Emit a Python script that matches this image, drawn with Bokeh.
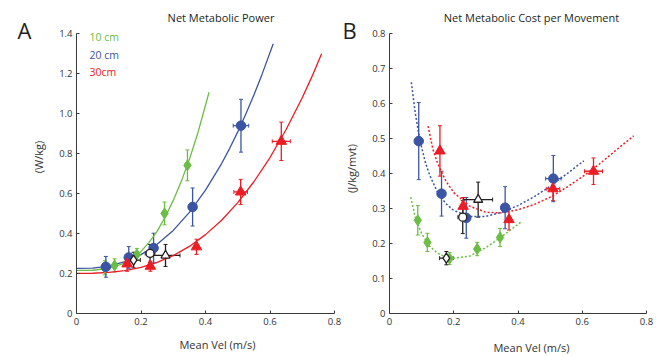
from bokeh.plotting import figure
from bokeh.layouts import row
from bokeh.models import (Range1d, FixedTicker, Whisker, TeeHead, ColumnDataSource, Label,
                          CustomJSTickFormatter)
from bokeh.embed import file_html
from bokeh.resources import INLINE

GREEN = "#6cbd45"
BLUE = "#3b54a4"
RED = "#ed1c24"
BLACK = "#231f20"
AX = "#3a3a3a"
FONT = "Open Sans"

x_ticks = [0, 0.2, 0.4, 0.6, 0.8]
yticks_A = [0, 0.2, 0.4, 0.6, 0.8, 1.0, 1.2, 1.4]
yticks_B = [0, 0.1, 0.2, 0.3, 0.4, 0.5, 0.6, 0.7, 0.8]

# ---- measured points (mean velocity, m/s) ----
vel_10 = [0.088, 0.118, 0.187, 0.273, 0.344]
vel_10_sd = [0.005, 0.006, 0.007, 0.006, 0.007]
pow_10 = [0.228, 0.240, 0.295, 0.500, 0.740]
pow_10_sd = [0.035, 0.033, 0.030, 0.057, 0.077]
cost_10 = [0.266, 0.203, 0.157, 0.184, 0.217]
cost_10_sd = [0.042, 0.026, 0.017, 0.019, 0.026]

vel_20 = [0.091, 0.162, 0.239, 0.360, 0.510]
vel_20_sd = [0.005, 0.008, 0.008, 0.008, 0.024]
pow_20 = [0.233, 0.280, 0.327, 0.532, 0.938]
pow_20_sd = [0.052, 0.054, 0.074, 0.095, 0.132]
cost_20 = [0.492, 0.342, 0.273, 0.302, 0.385]
cost_20_sd = [0.110, 0.064, 0.058, 0.060, 0.066]

vel_30 = [0.157, 0.229, 0.372, 0.509, 0.635]
vel_30_sd = [0.007, 0.008, 0.007, 0.021, 0.028]
pow_30 = [0.248, 0.236, 0.333, 0.607, 0.860]
pow_30_sd = [0.037, 0.025, 0.038, 0.063, 0.096]
cost_30 = [0.464, 0.306, 0.268, 0.356, 0.406]
cost_30_sd = [0.072, 0.025, 0.030, 0.034, 0.038]

# open black markers: 10 cm (diamond), 20 cm (circle), 30 cm (triangle)
vel_pref = [0.177, 0.228, 0.276]
vel_pref_sd = [0.021, 0.015, 0.045]
pow_pref = [0.267, 0.300, 0.290]
pow_pref_sd = [0.039, 0.045, 0.055]
cost_pref = [0.158, 0.275, 0.325]
cost_pref_sd = [0.019, 0.047, 0.050]
pref_markers = ["diamond", "circle", "triangle"]

# ---- fitted curves ----
fitA_10_x = [0, 0.05, 0.1, 0.15, 0.175, 0.2, 0.225, 0.25, 0.275, 0.3, 0.325, 0.35, 0.375, 0.4, 0.411]
fitA_10_y = [0.215, 0.216, 0.226, 0.252, 0.276, 0.310, 0.355, 0.410, 0.482, 0.565, 0.660, 0.770, 0.895, 1.040, 1.106]
fitA_20_x = [0, 0.05, 0.1, 0.15, 0.2, 0.25, 0.3, 0.35, 0.4, 0.45, 0.475, 0.5, 0.525, 0.55, 0.575, 0.61]
fitA_20_y = [0.225, 0.227, 0.237, 0.259, 0.294, 0.346, 0.415, 0.505, 0.616, 0.749, 0.825, 0.907, 0.996, 1.091, 1.193, 1.347]
fitA_30_x = [0, 0.05, 0.1, 0.15, 0.2, 0.25, 0.3, 0.35, 0.4, 0.45, 0.5, 0.55, 0.6, 0.65, 0.7, 0.73, 0.76]
fitA_30_y = [0.200, 0.201, 0.205, 0.214, 0.230, 0.255, 0.289, 0.335, 0.394, 0.466, 0.554, 0.658, 0.779, 0.919, 1.078, 1.183, 1.297]

fitB_10_x = [0.066, 0.08, 0.1, 0.125, 0.15, 0.175, 0.2, 0.25, 0.3, 0.35, 0.411]
fitB_10_y = [0.332, 0.275, 0.228, 0.192, 0.172, 0.161, 0.158, 0.164, 0.188, 0.220, 0.262]
fitB_20_x = [0.068, 0.08, 0.09, 0.1, 0.112, 0.125, 0.15, 0.175, 0.2, 0.25, 0.3, 0.35, 0.4, 0.45, 0.5, 0.55, 0.605]
fitB_20_y = [0.660, 0.573, 0.519, 0.474, 0.430, 0.395, 0.345, 0.314, 0.294, 0.277, 0.277, 0.289, 0.308, 0.333, 0.363, 0.397, 0.436]
fitB_30_x = [0.12, 0.135, 0.15, 0.175, 0.2, 0.25, 0.3, 0.35, 0.4, 0.45, 0.5, 0.55, 0.6, 0.65, 0.7, 0.76]
fitB_30_y = [0.535, 0.469, 0.428, 0.379, 0.345, 0.306, 0.289, 0.287, 0.296, 0.311, 0.332, 0.359, 0.390, 0.424, 0.462, 0.507]

legend_labels = ["10 cm", "20 cm", "30cm"]
legend_colors = [GREEN, BLUE, RED]

# ---- layout (picture pixels; the canvas starts at the picture's top-left) ----
H = 355
FRAME_BOTTOM_PAGE = 313
BOTTOM = H - FRAME_BOTTOM_PAGE
TOP_PAGE = 32.7                          # picture y of the top tick
WA, WB = 360, 300
A_LEFT_PAGE, A_END_PAGE = 76, 334        # picture x of 0 and 0.8 in panel A
B_LEFT_PAGE, B_END_PAGE = 389, 646


def make_fig(width, left, right, xmax_axis, ymax_axis, yticks, frame_left_page, end_page,
             frame_right_page):
    xs = (end_page - frame_left_page) / xmax_axis
    ys = (FRAME_BOTTOM_PAGE - TOP_PAGE) / ymax_axis
    p = figure(width=width, height=H, output_backend="svg", toolbar_location=None,
               x_range=Range1d(0, (frame_right_page - frame_left_page) / xs),
               y_range=Range1d(0, FRAME_BOTTOM_PAGE / ys),
               min_border_left=left, min_border_right=right,
               min_border_top=0, min_border_bottom=BOTTOM)
    p.xgrid.visible = False
    p.ygrid.visible = False
    p.outline_line_color = None
    p.background_fill_color = "white"
    p.border_fill_color = "white"
    fmt = CustomJSTickFormatter(code="return tick == 0 ? '0' : tick.toFixed(1);")
    for ax, ticks, bnd in ((p.xaxis[0], x_ticks, xmax_axis), (p.yaxis[0], yticks, ymax_axis)):
        ax.ticker = FixedTicker(ticks=ticks)
        ax.bounds = (0, bnd)
        ax.formatter = fmt
        ax.major_tick_in = 3
        ax.major_tick_out = 0
        ax.minor_tick_line_color = None
        ax.axis_line_color = AX
        ax.axis_line_width = 1
        ax.major_tick_line_color = AX
        ax.major_label_text_font = FONT
        ax.major_label_text_font_size = "9.5px"
        ax.major_label_text_color = "#333333"
        ax.major_label_standoff = 4
    p.tags = [frame_left_page, xs, ys]
    return p


def lab(p, px, py, text, size, color=BLACK, align="center", angle=0.0, place="center"):
    left_page, xs, ys = p.tags
    lbl = Label(x=(px - left_page) / xs, y=(FRAME_BOTTOM_PAGE - py) / ys,
                text=text, text_font=FONT, text_font_size=size, text_color=color,
                text_align=align, text_baseline="middle", angle=angle)
    p.add_layout(lbl, place)


def errbars(p, x, y, xsd, ysd, color):
    src = ColumnDataSource(dict(
        x=x, y=y,
        yl=[a - b for a, b in zip(y, ysd)], yu=[a + b for a, b in zip(y, ysd)],
        xl=[a - b for a, b in zip(x, xsd)], xu=[a + b for a, b in zip(x, xsd)]))
    for base, lo, hi, dim in (("x", "yl", "yu", "height"), ("y", "xl", "xu", "width")):
        p.add_layout(Whisker(source=src, base=base, lower=lo, upper=hi, dimension=dim,
                             line_color=color, line_width=1.3, level="underlay",
                             lower_head=TeeHead(size=4, line_color=color, line_width=1),
                             upper_head=TeeHead(size=4, line_color=color, line_width=1)))


def points(p, x, y, marker, color, size):
    p.scatter(x, y, marker=marker, size=size, fill_color=color, line_color=color, line_width=1)


# ---------------- Panel A ----------------
pA = make_fig(WA, A_LEFT_PAGE, 0, 0.8, 1.4, yticks_A, A_LEFT_PAGE, A_END_PAGE, WA)
pA.yaxis[0].axis_label = "(W/kg)"
pA.yaxis[0].axis_label_text_font = FONT
pA.yaxis[0].axis_label_text_font_size = "11px"
pA.yaxis[0].axis_label_text_font_style = "normal"
pA.yaxis[0].axis_label_text_color = "#333333"
pA.yaxis[0].axis_label_standoff = 10

pA.line(fitA_10_x, fitA_10_y, line_color=GREEN, line_width=1.3)
pA.line(fitA_20_x, fitA_20_y, line_color=BLUE, line_width=1.3)
pA.line(fitA_30_x, fitA_30_y, line_color=RED, line_width=1.3)
errbars(pA, vel_10, pow_10, vel_10_sd, pow_10_sd, GREEN)
errbars(pA, vel_20, pow_20, vel_20_sd, pow_20_sd, BLUE)
errbars(pA, vel_30, pow_30, vel_30_sd, pow_30_sd, RED)
errbars(pA, vel_pref, pow_pref, vel_pref_sd, pow_pref_sd, BLACK)
points(pA, vel_10, pow_10, "diamond", GREEN, 11)
points(pA, vel_20, pow_20, "circle", BLUE, 9.5)
points(pA, vel_30, pow_30, "triangle", RED, 10.5)
pA.scatter(vel_pref, pow_pref, marker=pref_markers, size=[10, 8, 9],
           fill_color="white", line_color=BLACK, line_width=1.3)

lab(pA, 220.5, 16.7, "Net Metabolic Power", "11px")
for i, (t, c) in enumerate(zip(legend_labels, legend_colors)):
    lab(pA, 89, 36.7 + i * 17.6, t, "10.5px", color=c, align="left")
lab(pA, 349, 29, "B", "22px")
lab(pA, 351, 168, "(J/kg/mvt)", "11px", color="#333333", angle=1.5708)
lab(pA, 24, 29, "A", "22px", place="left")
lab(pA, 217, 344, "Mean Vel (m/s)", "11px", color="#333333", place="below")

# ---------------- Panel B ----------------
pB = make_fig(WB, B_LEFT_PAGE - WA, WA + WB - B_END_PAGE, 0.8, 0.8, yticks_B,
              B_LEFT_PAGE, B_END_PAGE, B_END_PAGE)
pB.line(fitB_10_x, fitB_10_y, line_color=GREEN, line_width=1.5, line_dash="2 2")
pB.line(fitB_20_x, fitB_20_y, line_color=BLUE, line_width=1.5, line_dash="2 2")
pB.line(fitB_30_x, fitB_30_y, line_color=RED, line_width=1.5, line_dash="2 2")
errbars(pB, vel_10, cost_10, vel_10_sd, cost_10_sd, GREEN)
errbars(pB, vel_20, cost_20, vel_20_sd, cost_20_sd, BLUE)
errbars(pB, vel_30, cost_30, vel_30_sd, cost_30_sd, RED)
errbars(pB, vel_pref, cost_pref, vel_pref_sd, cost_pref_sd, BLACK)
points(pB, vel_10, cost_10, "diamond", GREEN, 11)
points(pB, vel_20, cost_20, "circle", BLUE, 9.5)
points(pB, vel_30, cost_30, "triangle", RED, 10.5)
pB.scatter(vel_pref, cost_pref, marker=pref_markers, size=[10, 8, 9],
           fill_color="white", line_color=BLACK, line_width=1.3)

lab(pB, 531, 16.7, "Net Metabolic Cost per Movement", "11px")
lab(pB, 531, 347, "Mean Vel (m/s)", "11px", color="#333333", place="below")

layout = row(pA, pB)
open("out.html", "w").write(file_html(layout, INLINE))
